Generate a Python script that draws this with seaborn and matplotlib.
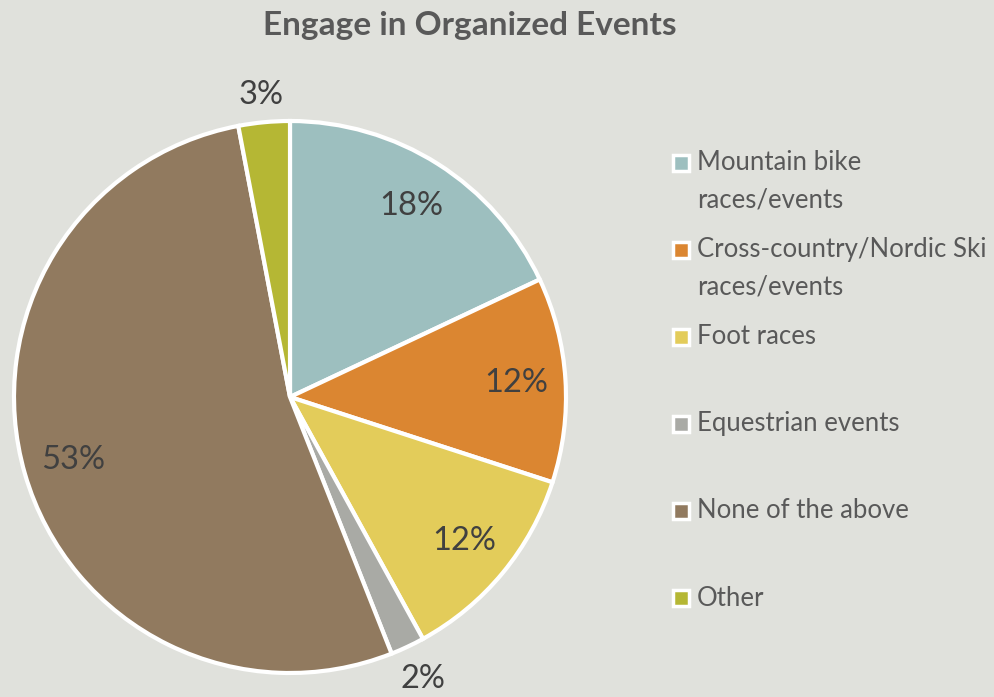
import numpy as np
import matplotlib
matplotlib.use("Agg")
import matplotlib.pyplot as plt
from matplotlib.patches import Rectangle
import seaborn as sns

# =========================
# DATA
# =========================

categories = [
    "Mountain bike\nraces/events",
    "Cross-country/Nordic Ski\nraces/events",
    "Foot races",
    "Equestrian events",
    "None of the above",
    "Other",
]
shares = [18, 12, 12, 2, 53, 3]
colors = ["#9DBFBF", "#DB8631", "#E3CC5A", "#A9AAA5", "#917A5F", "#B5B734"]
title = "Engage in Organized Events"

bg = "#E0E1DC"

# =========================
# THEME
# =========================

sns.set_theme(style="white")
plt.rcParams["font.family"] = ["Lato", "DejaVu Sans"]

W, H = 994, 697
fig = plt.figure(figsize=(W / 100, H / 100), dpi=100, facecolor=bg)
ax = fig.add_axes([0, 0, 1, 1])
ax.set_facecolor(bg)

# =========================
# PIE
# =========================

cx, cy, r = 290, H - 397, 276

wedges, _ = ax.pie(
    shares,
    colors=colors,
    startangle=90,
    counterclock=False,
    center=(cx, cy),
    radius=r,
    wedgeprops=dict(edgecolor="white", linewidth=3),
    frame=True,
)
ax.set_xlim(0, W)
ax.set_ylim(0, H)
ax.set_aspect("equal")
ax.axis("off")

for w, v in zip(wedges, shares):
    mid = np.deg2rad((w.theta1 + w.theta2) / 2)
    ca, sa = np.cos(mid), np.sin(mid)
    if v >= 5:
        d = 0.82 * r
    else:
        # outside label: keep the box a small gap off the rim
        d = r + 8 + 32 * abs(ca) + 16 * abs(sa)
    ax.text(cx + d * ca, cy + d * sa, f"{v}%",
            ha="center", va="center", fontsize=23.5, color="#404040")

# =========================
# TITLE
# =========================

fig.text(470 / W, 1 - 26 / H, title, ha="center", va="center",
         fontsize=24, fontweight="bold", color="#595959")

# =========================
# LEGEND
# =========================

for i, (lab, c) in enumerate(zip(categories, colors)):
    y = 163 + 87 * i
    ax.add_patch(Rectangle((681 - 8, H - y - 8), 16, 16, facecolor=c,
                           edgecolor="white", linewidth=2.5, clip_on=False))
    for k, line in enumerate(lab.split("\n")):
        ax.text(697, H - y - 37 * k, line, ha="left", va="center",
                fontsize=18.5, color="#595959")

fig.savefig("out.png", dpi=100, facecolor=bg)
